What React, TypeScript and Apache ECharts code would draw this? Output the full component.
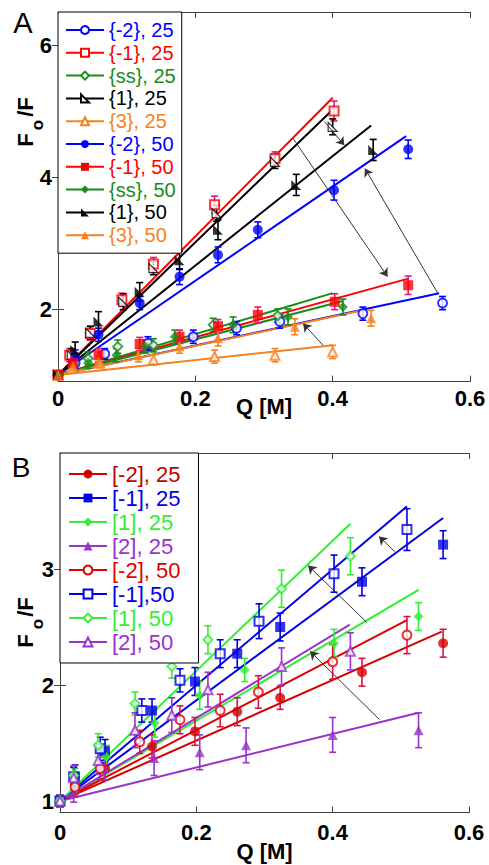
import React, { useEffect, useRef } from 'react';
import * as echarts from 'echarts';

const FONT = '"Liberation Sans", Arial, sans-serif';
const FLAG = 'path://M0,0L0,10L10,10Z';

// ---------- Panel A ----------
const namesA = ['{-2}, 25', '{-1}, 25', '{ss}, 25', '{1}, 25', '{3}, 25', '{-2}, 50', '{-1}, 50', '{ss}, 50', '{1}, 50', '{3}, 50'];
const colorsA = ['#0000ff', '#ff0000', '#1a8c1a', '#000000', '#f7801f', '#0000ff', '#ff0000', '#1a8c1a', '#000000', '#f7801f'];
const errColorsA = ['#0000ff', '#e6157e', '#1a8c1a', '#000000', '#f7801f', '#0000ff', '#e6157e', '#1a8c1a', '#000000', '#f7801f'];
const symbolsA = ['emptyCircle', 'emptyRect', 'emptyDiamond', FLAG, 'emptyTriangle', 'circle', 'rect', 'diamond', FLAG, 'triangle'];

const xA0 = [0, 0.025, 0.068, 0.131, 0.197, 0.26, 0.323, 0.444, 0.56];
const yA0 = [1.0, 1.18, 1.32, 1.48, 1.58, 1.71, 1.81, 1.93, 2.09];
const eA0 = [0.06, 0.08, 0.08, 0.1, 0.1, 0.1, 0.1, 0.1, 0.1];
const fitA0 = [[0, 1], [0.555, 2.24]];

const xA1 = [0, 0.017, 0.047, 0.093, 0.139, 0.228, 0.316, 0.402];
const yA1 = [1.0, 1.3, 1.63, 2.14, 2.68, 3.58, 4.28, 5.0];
const eA1 = [0.06, 0.1, 0.1, 0.1, 0.1, 0.13, 0.1, 0.15];
const fitA1 = [[0, 1], [0.4, 5.2]];

const xA2 = [0, 0.022, 0.044, 0.087, 0.139, 0.226, 0.32];
const yA2 = [1.0, 1.12, 1.25, 1.43, 1.45, 1.76, 1.9];
const eA2 = [0.06, 0.08, 0.1, 0.1, 0.1, 0.1, 0.1];
const fitA2 = [[0, 1], [0.4, 2.24]];

const xA3 = [0, 0.02, 0.047, 0.095, 0.139, 0.231, 0.316, 0.4];
const yA3 = [1.0, 1.3, 1.64, 2.11, 2.62, 3.45, 4.23, 4.76];
const eA3 = [0.06, 0.1, 0.1, 0.12, 0.1, 0.12, 0.1, 0.12];
const fitA3 = [[0, 1], [0.398, 5.0]];

const xA4 = [0, 0.02, 0.061, 0.139, 0.228, 0.316, 0.4];
const yA4 = [1.0, 1.1, 1.18, 1.23, 1.28, 1.3, 1.35];
const eA4 = [0.05, 0.06, 0.07, 0.08, 0.1, 0.1, 0.1];
const fitA4 = [[0, 1], [0.4, 1.45]];

const xA5 = [0, 0.025, 0.059, 0.119, 0.177, 0.233, 0.291, 0.402, 0.51];
const yA5 = [1.0, 1.28, 1.61, 2.09, 2.49, 2.82, 3.2, 3.8, 4.42];
const eA5 = [0.06, 0.1, 0.1, 0.1, 0.12, 0.12, 0.12, 0.15, 0.14];
const fitA5 = [[0, 1], [0.507, 4.62]];

const xA6 = [0, 0.022, 0.059, 0.119, 0.177, 0.233, 0.291, 0.403, 0.51];
const yA6 = [1.0, 1.18, 1.3, 1.47, 1.58, 1.74, 1.91, 2.11, 2.36];
const eA6 = [0.06, 0.08, 0.1, 0.1, 0.1, 0.1, 0.12, 0.12, 0.14];
const fitA6 = [[0, 1], [0.51, 2.46]];

const xA7 = [0, 0.044, 0.085, 0.127, 0.17, 0.255, 0.335, 0.415];
const yA7 = [1.0, 1.18, 1.3, 1.43, 1.58, 1.76, 1.88, 2.03];
const eA7 = [0.06, 0.08, 0.1, 0.1, 0.1, 0.12, 0.12, 0.12];
const fitA7 = [[0, 1], [0.415, 2.12]];

const xA8 = [0, 0.025, 0.059, 0.119, 0.177, 0.233, 0.347, 0.459];
const yA8 = [1.0, 1.38, 1.81, 2.26, 2.74, 3.2, 3.88, 4.41];
const eA8 = [0.06, 0.12, 0.15, 0.14, 0.14, 0.15, 0.16, 0.16];
const fitA8 = [[0, 1], [0.456, 4.78]];

const xA9 = [0, 0.022, 0.059, 0.117, 0.177, 0.233, 0.345, 0.456];
const yA9 = [1.0, 1.13, 1.2, 1.3, 1.43, 1.56, 1.73, 1.86];
const eA9 = [0.06, 0.08, 0.08, 0.1, 0.1, 0.12, 0.12, 0.12];
const fitA9 = [[0, 1], [0.444, 1.98]];

const xsA = [xA0, xA1, xA2, xA3, xA4, xA5, xA6, xA7, xA8, xA9];
const ysA = [yA0, yA1, yA2, yA3, yA4, yA5, yA6, yA7, yA8, yA9];
const esA = [eA0, eA1, eA2, eA3, eA4, eA5, eA6, eA7, eA8, eA9];
const fitsA = [fitA0, fitA1, fitA2, fitA3, fitA4, fitA5, fitA6, fitA7, fitA8, fitA9];
const arrowsA = [
  [[0.342, 4.59], [0.48, 2.49]],
  [[0.553, 2.24], [0.447, 4.13]],
  [[0.388, 4.84], [0.417, 4.48]],
  [[0.386, 1.45], [0.357, 1.78]],
];
const yTicksA = [2, 4, 6];

// ---------- Panel B ----------
const namesB = ['[-2], 25', '[-1], 25', '[1], 25', '[2], 25', '[-2], 50', '[-1],50', '[1], 50', '[2], 50'];
const colorsB = ['#d40000', '#0000e6', '#33ee33', '#9933cc', '#e00000', '#0000e6', '#33ee33', '#9933cc'];
const textColorsB = ['#c00000', '#0000e6', '#33ee33', '#9933cc', '#e00000', '#0000e6', '#33ee33', '#9933cc'];
const errColorsB = ['#dd1144', '#0000e6', '#33ee33', '#9933cc', '#dd1144', '#0000e6', '#33ee33', '#9933cc'];
const symbolsB = ['circle', 'rect', 'diamond', 'triangle', 'emptyCircle', 'emptyRect', 'emptyDiamond', 'emptyTriangle'];

const xB0 = [0, 0.022, 0.066, 0.135, 0.198, 0.26, 0.323, 0.443, 0.562];
const yB0 = [1.0, 1.14, 1.28, 1.47, 1.6, 1.77, 1.89, 2.11, 2.36];
const eB0 = [0.05, 0.08, 0.1, 0.1, 0.12, 0.12, 0.1, 0.12, 0.12];
const fitB0 = [[0, 1], [0.56, 2.46]];

const xB1 = [0, 0.022, 0.066, 0.135, 0.198, 0.26, 0.323, 0.443, 0.562];
const yB1 = [1.0, 1.21, 1.43, 1.78, 2.03, 2.27, 2.5, 2.89, 3.21];
const eB1 = [0.05, 0.1, 0.1, 0.1, 0.12, 0.12, 0.12, 0.12, 0.12];
const fitB1 = [[0, 1], [0.562, 3.44]];

const xB2 = [0, 0.022, 0.068, 0.139, 0.205, 0.271, 0.402, 0.526];
const yB2 = [1.0, 1.18, 1.38, 1.67, 1.91, 2.13, 2.36, 2.59];
const eB2 = [0.05, 0.1, 0.1, 0.12, 0.12, 0.1, 0.12, 0.12];
const fitB2 = [[0, 1], [0.526, 2.82]];

const xB3 = [0, 0.02, 0.065, 0.138, 0.205, 0.273, 0.4, 0.526];
const yB3 = [1.0, 1.07, 1.28, 1.37, 1.42, 1.48, 1.57, 1.61];
const eB3 = [0.05, 0.08, 0.1, 0.15, 0.15, 0.15, 0.15, 0.15];
const fitB3 = [[0, 1], [0.526, 1.76]];

const xB4 = [0, 0.022, 0.059, 0.117, 0.176, 0.235, 0.291, 0.4, 0.509];
const yB4 = [1.0, 1.12, 1.28, 1.51, 1.7, 1.78, 1.94, 2.2, 2.43];
const eB4 = [0.05, 0.08, 0.1, 0.1, 0.12, 0.14, 0.14, 0.15, 0.16];
const fitB4 = [[0, 1], [0.509, 2.56]];

const xB5 = [0, 0.02, 0.059, 0.12, 0.176, 0.235, 0.292, 0.402, 0.509];
const yB5 = [1.0, 1.21, 1.45, 1.78, 2.04, 2.27, 2.55, 2.96, 3.34];
const eB5 = [0.05, 0.08, 0.1, 0.1, 0.1, 0.12, 0.15, 0.16, 0.18];
const fitB5 = [[0, 1], [0.509, 3.54]];

const xB6 = [0, 0.02, 0.056, 0.11, 0.164, 0.217, 0.325, 0.426];
const yB6 = [1.0, 1.22, 1.48, 1.84, 2.16, 2.39, 2.83, 3.11];
const eB6 = [0.05, 0.08, 0.1, 0.1, 0.1, 0.12, 0.16, 0.16];
const fitB6 = [[0, 1], [0.426, 3.39]];

const xB7 = [0, 0.02, 0.056, 0.11, 0.164, 0.217, 0.325, 0.426];
const yB7 = [1.0, 1.2, 1.35, 1.61, 1.74, 1.96, 2.16, 2.29];
const eB7 = [0.05, 0.1, 0.12, 0.15, 0.15, 0.15, 0.16, 0.16];
const fitB7 = [[0, 1], [0.425, 2.52]];

const xsB = [xB0, xB1, xB2, xB3, xB4, xB5, xB6, xB7];
const ysB = [yB0, yB1, yB2, yB3, yB4, yB5, yB6, yB7];
const esB = [eB0, eB1, eB2, eB3, eB4, eB5, eB6, eB7];
const fitsB = [fitB0, fitB1, fitB2, fitB3, fitB4, fitB5, fitB6, fitB7];
const arrowsB = [
  [[0.469, 1.7], [0.367, 2.29]],
  [[0.45, 2.54], [0.364, 3.03]],
  [[0.491, 3.15], [0.468, 3.28]],
];
const yTicksB = [1, 2, 3];

function buildSeries(
  names: string[], xs: number[][], ys: number[][], es: number[][], fits: number[][][],
  colors: string[], errColors: string[], symbols: string[], axisX: number, axisY: number,
  arrows: number[][][],
) {
  const out: any[] = [];
  const flagOpen = (i: number) => symbols[i] === FLAG && i < 5 && names.length === 10;
  names.forEach((name, i) => {
    out.push({
      type: 'line', name, xAxisIndex: axisX, yAxisIndex: axisY, data: fits[i],
      showSymbol: false, symbol: symbols[i], silent: true, z: 2,
      lineStyle: { color: colors[i], width: 2 },
      itemStyle: flagOpen(i) ? { color: '#fff', borderColor: colors[i], borderWidth: 1.2 } : { color: colors[i] },
    });
  });
  names.forEach((name, i) => {
    const col = errColors[i];
    out.push({
      type: 'custom', name, xAxisIndex: axisX, yAxisIndex: axisY, z: 3, silent: true,
      data: xs[i].map((v, j) => [v, ys[i][j], es[i][j]]),
      renderItem: (_p: any, api: any) => {
        const x = api.value(0), y = api.value(1), e = api.value(2);
        const t = api.coord([x, y + e]);
        const b = api.coord([x, y - e]);
        const hw = 3.5;
        const st = { stroke: col, lineWidth: 1.6 };
        return {
          type: 'group', children: [
            { type: 'line', shape: { x1: t[0], y1: t[1], x2: b[0], y2: b[1] }, style: st },
            { type: 'line', shape: { x1: t[0] - hw, y1: t[1], x2: t[0] + hw, y2: t[1] }, style: st },
            { type: 'line', shape: { x1: b[0] - hw, y1: b[1], x2: b[0] + hw, y2: b[1] }, style: st },
          ],
        };
      },
    });
  });
  names.forEach((name, i) => {
    const isEmpty = symbols[i].startsWith('empty');
    out.push({
      type: 'scatter', name, xAxisIndex: axisX, yAxisIndex: axisY, z: 4, silent: true,
      data: xs[i].map((v, j) => [v, ys[i][j]]),
      symbol: symbols[i], symbolSize: isEmpty || flagOpen(i) ? 9 : 10,
      itemStyle: flagOpen(i)
        ? { color: '#fff', borderColor: colors[i], borderWidth: 1.2 }
        : isEmpty ? { color: colors[i], borderWidth: 1.3 } : { color: colors[i] },
    });
  });
  out.push({
    type: 'lines', coordinateSystem: 'cartesian2d', xAxisIndex: axisX, yAxisIndex: axisY, z: 5, silent: true,
    symbol: ['none', 'arrow'], symbolSize: 8,
    lineStyle: { color: '#333', width: 1, opacity: 1 },
    data: arrows.map((a) => ({ coords: a })),
  });
  return out;
}

function axesFor(gridIndex: number, min: number, max: number, ticks: number[]) {
  const lineStyle = { color: '#404040', width: 1 };
  const tickCommon = { show: true, inside: true, length: 6, lineStyle };
  const xAxes = [
    {
      type: 'value', gridIndex, position: 'bottom', min: 0, max: 0.6, interval: 0.2,
      axisLine: { show: true, lineStyle }, axisTick: tickCommon, splitLine: { show: false },
      axisLabel: {
        margin: gridIndex === 0 ? 6 : 9, fontFamily: FONT, fontWeight: 'bold', fontSize: 22, color: '#000',
        formatter: (v: number) => String(Math.round(v * 10) / 10),
      },
      name: 'Q [M]', nameLocation: 'middle', nameGap: gridIndex === 0 ? 14 : 28, nameMoveOverlap: false,
      nameTextStyle: { fontFamily: FONT, fontWeight: 'bold', fontSize: 22, color: '#000', verticalAlign: 'top' },
    },
    {
      type: 'value', gridIndex, position: 'top', min: 0, max: 0.6, interval: 0.2,
      axisLine: { show: true, lineStyle }, axisTick: tickCommon, axisLabel: { show: false }, splitLine: { show: false },
    },
  ];
  const yAxes = [
    {
      type: 'value', gridIndex, position: 'left', min, max,
      axisLine: { show: true, lineStyle },
      axisTick: { ...tickCommon, customValues: ticks }, splitLine: { show: false },
      axisLabel: { customValues: ticks, margin: 6, fontFamily: FONT, fontWeight: 'bold', fontSize: 22, color: '#000' },
    },
    {
      type: 'value', gridIndex, position: 'right', min, max,
      axisLine: { show: true, lineStyle },
      axisTick: { ...tickCommon, customValues: ticks }, splitLine: { show: false },
      axisLabel: { show: false, customValues: ticks },
    },
  ];
  return { xAxes, yAxes };
}

function yLabel(cx: number, yF: number, yo: number, ySlash: number) {
  const base = { fontFamily: FONT, fontWeight: 'bold', fill: '#000', align: 'center', verticalAlign: 'middle' };
  return [
    { type: 'text', x: cx, y: yF, rotation: Math.PI / 2, style: { ...base, text: 'F', fontSize: 22 } },
    { type: 'text', x: cx + 12, y: yo, rotation: Math.PI / 2, style: { ...base, text: 'o', fontSize: 17 } },
    { type: 'text', x: cx, y: ySlash, rotation: Math.PI / 2, style: { ...base, text: '/F', fontSize: 22 } },
  ];
}

export default function App() {
  const ref = useRef<HTMLDivElement>(null);
  useEffect(() => {
    if (!ref.current) return;
    const chart = echarts.init(ref.current, undefined, { renderer: 'svg' });
    const a = axesFor(0, 0.9, 6.5, yTicksA);
    const b = axesFor(1, 0.9, 4.0, yTicksB);
    const legendBase = {
      orient: 'vertical', selectedMode: false, borderColor: '#000', borderWidth: 1,
      backgroundColor: '#fff', borderRadius: 0, z: 10,
    };
    chart.setOption({
      animation: false,
      backgroundColor: '#fff',
      grid: [
        { left: 58, top: 12, width: 412, height: 369.6, show: false },
        { left: 60, top: 453, width: 409, height: 359.6, show: false },
      ],
      xAxis: [...a.xAxes, ...b.xAxes],
      yAxis: [...a.yAxes, ...b.yAxes],
      legend: [
        {
          ...legendBase, left: 58, top: 12, padding: [8, 6, 8, 7], itemGap: 2.8, itemWidth: 38, itemHeight: 10,
          textStyle: { fontFamily: FONT, fontSize: 20, lineHeight: 20 },
          data: namesA.map((n, i) => ({ name: n, textStyle: { color: colorsA[i] } })),
        },
        {
          ...legendBase, left: 60, top: 453, padding: [10, 18, 10, 8], itemGap: 2, itemWidth: 38, itemHeight: 11,
          textStyle: { fontFamily: FONT, fontSize: 22, lineHeight: 22 },
          data: namesB.map((n, i) => ({ name: n, textStyle: { color: textColorsB[i] } })),
        },
      ],
      series: [
        ...buildSeries(namesA, xsA, ysA, esA, fitsA, colorsA, errColorsA, symbolsA, 0, 0, arrowsA),
        ...buildSeries(namesB, xsB, ysB, esB, fitsB, colorsB, errColorsB, symbolsB, 2, 2, arrowsB),
      ],
      graphic: [
        { type: 'text', x: 23, y: 23, style: { text: 'A', fontFamily: FONT, fontSize: 29, fill: '#000', align: 'center', verticalAlign: 'middle' } },
        { type: 'text', x: 21, y: 467, style: { text: 'B', fontFamily: FONT, fontSize: 28, fill: '#000', align: 'center', verticalAlign: 'middle' } },
        ...yLabel(25, 140, 125, 107),
        ...yLabel(25, 641, 624, 607),
      ],
    });
    return () => chart.dispose();
  }, []);
  return <div ref={ref} style={{ position: 'absolute', left: 0, top: 0, width: 489, height: 865 }} />;
}
